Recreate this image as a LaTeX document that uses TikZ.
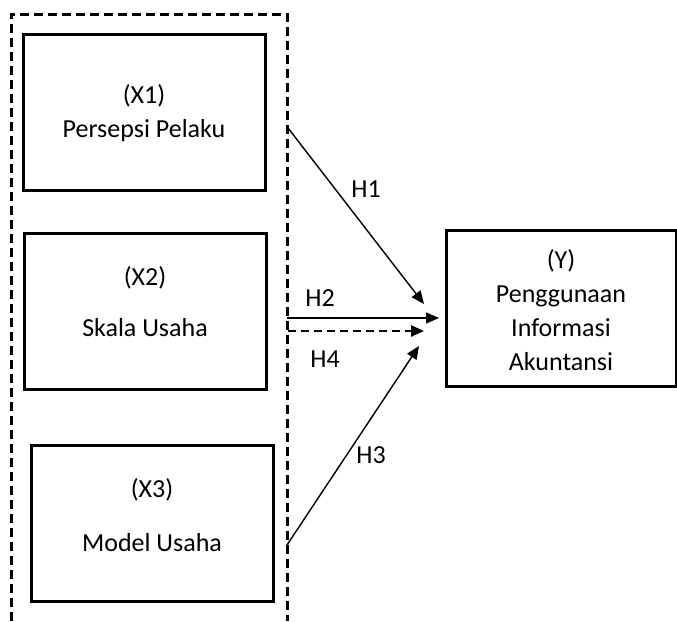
\documentclass[tikz,border=0pt]{standalone}
\usepackage{fontspec}
\setmainfont{Carlito}
\usetikzlibrary{arrows.meta}

\begin{document}
\begin{tikzpicture}[x=1pt, y=-1pt,
  txt/.style={font=\fontsize{26}{34}\selectfont, align=center},
  box/.style={draw, line width=3pt, inner sep=0pt, minimum width=242pt, minimum height=156pt},
  frame/.style={line width=3pt, dash pattern=on 9pt off 5pt},
  link/.style={line width=1.4pt, -{Triangle[length=13pt,width=11pt]}}]
\useasboundingbox (0,0) rectangle (677,621);
% variabel bebas
\draw [frame] (11,621) -- (11,14) -- (287,14) -- (287,621);
\node [box] (x1) at (144,112) {};
\node [box] (x2) at (145,311) {};
\node [box] (x3) at (152,523) {};
\node [txt] (x1t) at (144,113) {(X1)\\Persepsi Pelaku};
\node [txt] (x2t) at (145,302) {(X2)\\[17pt]Skala Usaha};
\node [txt] (x3t) at (152,515) {(X3)\\[20pt]Model Usaha};
% variabel terikat
\node [box, minimum width=230pt] (y) at (561,308) {};
\node [txt] (yt) at (561,310) {(Y)\\Penggunaan\\Informasi\\Akuntansi};
%
\coordinate (h1s) at (288,128);
\coordinate (h1e) at (424,304);
\coordinate (h2s) at (287,318);
\coordinate (h2e) at (439,318);
\coordinate (h4s) at (288,331);
\coordinate (h4e) at (424,331);
\coordinate (h3s) at (287,545);
\coordinate (h3e) at (419,346);
\draw [link] (h1s) -- (h1e);
\draw [link] (h2s) -- (h2e);
\draw [link, line width=2.4pt, dash pattern=on 8pt off 5pt] (h4s) -- (h4e);
\draw [link] (h3s) -- (h3e);
\node [txt] (h1) at (366,189) {H1};
\node [txt] (h2) at (320,298) {H2};
\node [txt] (h4) at (325,359) {H4};
\node [txt] (h3) at (371,455) {H3};
%
\end{tikzpicture}
\end{document}
